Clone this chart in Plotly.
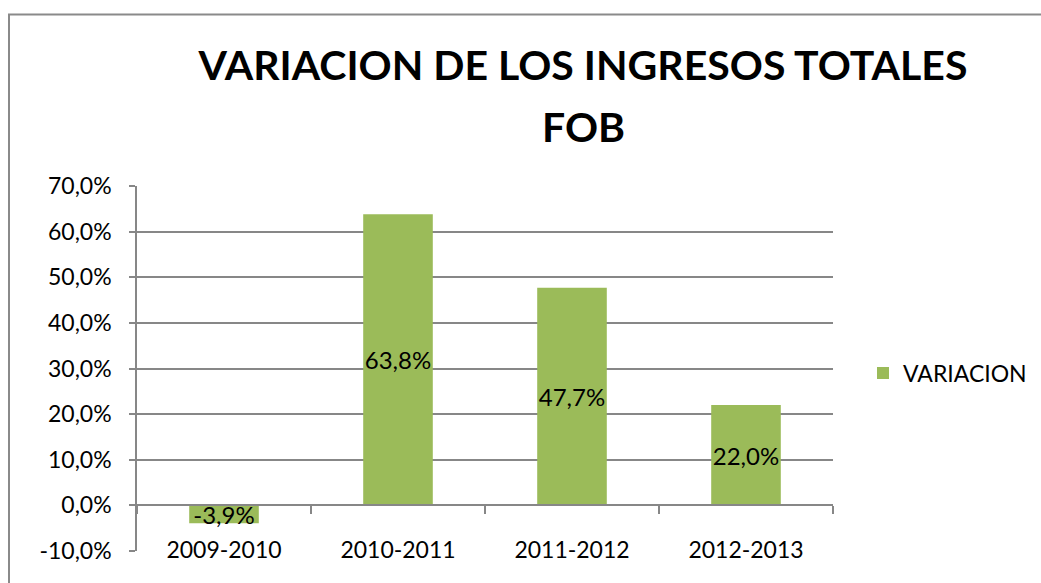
import plotly.graph_objects as go

categories = ["2009-2010", "2010-2011", "2011-2012", "2012-2013"]
variacion = [-0.039, 0.638, 0.477, 0.220]
y_ticks = [-0.1, 0.0, 0.1, 0.2, 0.3, 0.4, 0.5, 0.6, 0.7]
title_line1 = "VARIACION DE LOS INGRESOS TOTALES"
title_line2 = "FOB"


def pct(v):
    return f"{v * 100:.1f}%".replace(".", ",")


BAR = "#9BBB59"
GRID = "#878787"
FONT = "Lato, Carlito, Calibri, sans-serif"

W, H = 1041, 583
L, R, T, B = 137, 1041 - 833, 186, 583 - 551
pw, ph = W - L - R, H - T - B

fig = go.Figure()
fig.add_trace(go.Bar(
    x=categories, y=variacion, name="VARIACION",
    marker=dict(color=BAR, line=dict(width=0)),
    text=[pct(v) for v in variacion], texttemplate="%{text}",
    textposition="inside", textangle=0,
    insidetextanchor="middle", constraintext="none",
    textfont=dict(family=FONT, size=24, color="black"),
    width=0.4, hoverinfo="x+text",
))

zero_pos = (0 - y_ticks[0]) / (y_ticks[-1] - y_ticks[0])

fig.update_layout(
    width=W, height=H,
    margin=dict(l=L, r=R, t=T, b=B, autoexpand=False),
    paper_bgcolor="white", plot_bgcolor="white",
    font=dict(family=FONT, color="black"),
    title=dict(
        text="<b>" + title_line1 + "</b>",
        x=583 / W, xanchor="center", xref="container",
        y=1 - 66 / H, yanchor="middle", yref="container",
        font=dict(family=FONT, size=41, color="black"),
    ),
    annotations=[dict(
        text="<b>" + title_line2 + "</b>", xref="paper", yref="paper",
        x=(583 - L) / pw, y=(551 - 126) / ph, xanchor="center", yanchor="middle",
        showarrow=False, font=dict(family=FONT, size=41, color="black"),
    )],
    showlegend=True,
    legend=dict(
        x=(863 - L) / pw, xanchor="left", y=(551 - 373) / ph, yanchor="middle",
        font=dict(family=FONT, size=23, color="black"),
        bgcolor="rgba(0,0,0,0)", itemwidth=30,
    ),
    xaxis=dict(
        type="category", range=[-0.5, 3.5],
        anchor="free", position=zero_pos,
        showline=True, linecolor=GRID, linewidth=1.5,
        ticks="outside", tickson="boundaries", ticklen=8, tickcolor=GRID, tickwidth=1.5,
        showgrid=False, zeroline=False,
        tickfont=dict(family=FONT, size=23, color="black"),
        ticklabelstandoff=24,
    ),
    yaxis=dict(
        range=[y_ticks[0], y_ticks[-1]], tickmode="array",
        tickvals=y_ticks, ticktext=[pct(v) for v in y_ticks],
        showline=True, linecolor=GRID, linewidth=1.5,
        ticks="outside", ticklen=6, tickcolor=GRID, tickwidth=1.5,
        showgrid=True, gridcolor=GRID, gridwidth=1.5, zeroline=False,
        tickfont=dict(family=FONT, size=23, color="black"),
        ticklabelstandoff=13,
    ),
    shapes=[dict(
        type="rect", xref="paper", yref="paper",
        x0=(9 - L) / pw, x1=(1060 - L) / pw, y0=-0.3, y1=(551 - 14.5) / ph,
        line=dict(color="#8a8a8a", width=2), fillcolor="rgba(0,0,0,0)", layer="below",
    )],
)

fig.write_html(
    "out.html",
    config={"displayModeBar": False},
    post_script="document.body.style.margin='0';document.body.style.overflow='hidden';",
)
